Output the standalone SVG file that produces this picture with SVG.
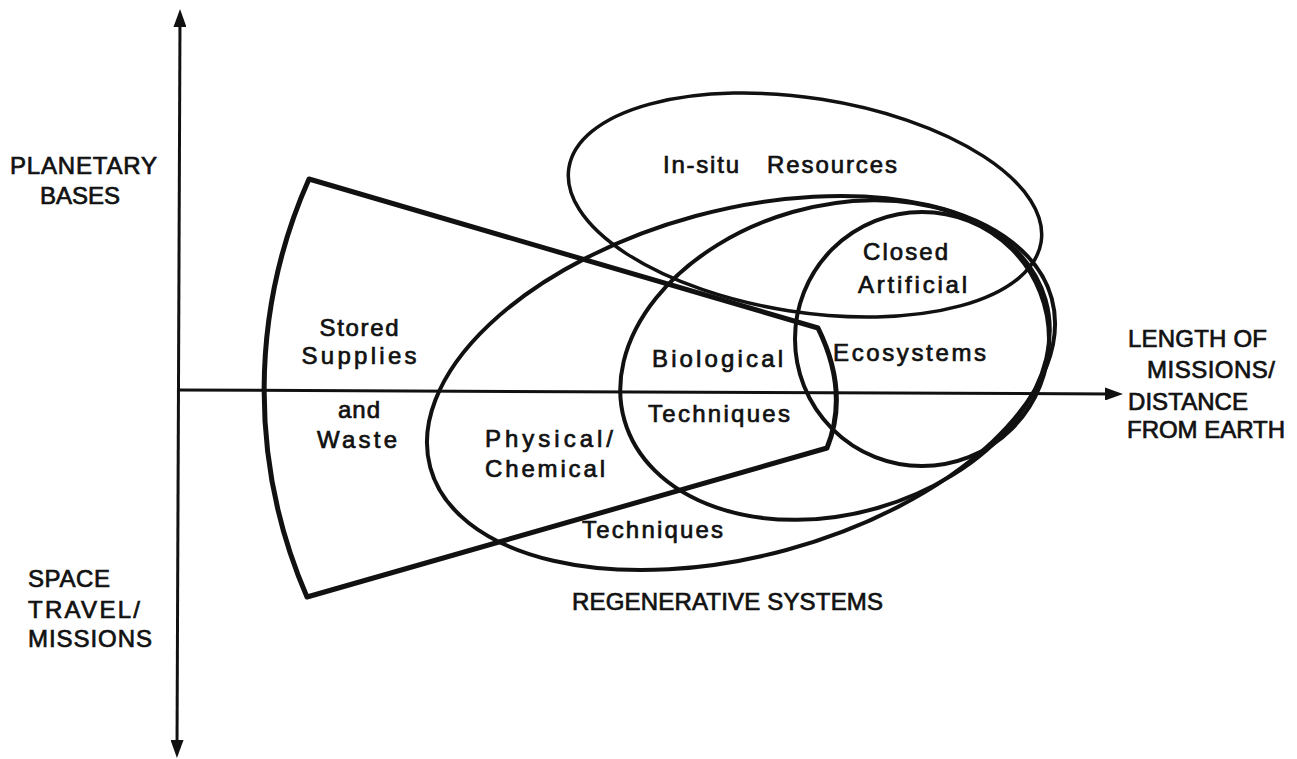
<svg xmlns="http://www.w3.org/2000/svg" width="1297" height="759" viewBox="0 0 1297 759">
  <style>
    .shape { fill: none; stroke: #111; stroke-linejoin: round; }
    .fan { stroke-width: 5; }
    .ell { stroke-width: 4; }
    .axis { fill: none; stroke: #111; stroke-width: 3; }
    text { font-family: "Liberation Sans", Arial, sans-serif; font-size: 24px; fill: #111; stroke: #111; stroke-width: 0.7; }
  </style>
  <defs>
    <marker id="arrow" viewBox="0 0 18 13" refX="8" refY="6.5" markerWidth="18" markerHeight="13" markerUnits="userSpaceOnUse" orient="auto-start-reverse">
      <path d="M0,0 L18,6.5 L0,13 Z" fill="#111"/>
    </marker>
  </defs>
  <rect width="1297" height="759" fill="#fff"/>

  <g id="connectors">
    <line class="axis" x1="180" y1="19" x2="177" y2="748" marker-start="url(#arrow)" marker-end="url(#arrow)"/>
    <line class="axis" x1="177" y1="390" x2="1113" y2="394" marker-end="url(#arrow)"/>
  </g>

  <g id="stored-supplies">
    <path class="shape fan" d="M309,179 L818,328 Q849.5,392 827,448 L307,597 A520,520 0 0 1 309,179 Z"/>
    <text x="359" y="336" text-anchor="middle" textLength="79" lengthAdjust="spacing">Stored</text>
    <text x="359" y="364" text-anchor="middle" textLength="115" lengthAdjust="spacing">Supplies</text>
    <text x="359" y="418" text-anchor="middle" textLength="42" lengthAdjust="spacing">and</text>
    <text x="357" y="448" text-anchor="middle" textLength="80" lengthAdjust="spacing">Waste</text>
  </g>

  <g id="physical-chemical">
    <ellipse class="shape ell" cx="741" cy="383" rx="322" ry="173" transform="rotate(-15.2 741 383)"/>
    <text x="485" y="447" textLength="128" lengthAdjust="spacing">Physical/</text>
    <text x="485" y="477" textLength="120" lengthAdjust="spacing">Chemical</text>
    <text x="582" y="538" textLength="141" lengthAdjust="spacing">Techniques</text>
  </g>

  <g id="biological">
    <ellipse class="shape ell" cx="835" cy="360" rx="219" ry="154" transform="rotate(-16 835 360)"/>
    <text x="652" y="367" textLength="131" lengthAdjust="spacing">Biological</text>
    <text x="648" y="422" textLength="142" lengthAdjust="spacing">Techniques</text>
  </g>

  <g id="closed-artificial">
    <circle class="shape ell" cx="922" cy="339" r="127"/>
    <text x="863" y="260" textLength="85" lengthAdjust="spacing">Closed</text>
    <text x="858" y="293" textLength="109" lengthAdjust="spacing">Artificial</text>
    <text x="833" y="361" textLength="153" lengthAdjust="spacing">Ecosystems</text>
  </g>

  <g id="in-situ">
    <ellipse class="shape" stroke-width="3.5" cx="805" cy="205" rx="239" ry="107" transform="rotate(8.9 805 205)"/>
    <text x="663" y="173" textLength="76" lengthAdjust="spacing">In-situ</text>
    <text x="767" y="173" textLength="130" lengthAdjust="spacing">Resources</text>
  </g>

  <g id="axis-labels">
    <text x="10" y="174" textLength="147" lengthAdjust="spacing">PLANETARY</text>
    <text x="40" y="204" textLength="80" lengthAdjust="spacing">BASES</text>
    <text x="28" y="587" textLength="82" lengthAdjust="spacing">SPACE</text>
    <text x="28" y="618" textLength="112" lengthAdjust="spacing">TRAVEL/</text>
    <text x="28" y="647" textLength="124" lengthAdjust="spacing">MISSIONS</text>
    <text x="1128" y="347" textLength="139" lengthAdjust="spacing">LENGTH OF</text>
    <text x="1147" y="378" textLength="128" lengthAdjust="spacing">MISSIONS/</text>
    <text x="1128" y="410" textLength="120" lengthAdjust="spacing">DISTANCE</text>
    <text x="1127" y="438" textLength="158" lengthAdjust="spacing">FROM EARTH</text>
    <text x="572" y="610" textLength="311" lengthAdjust="spacing">REGENERATIVE SYSTEMS</text>
  </g>
</svg>
